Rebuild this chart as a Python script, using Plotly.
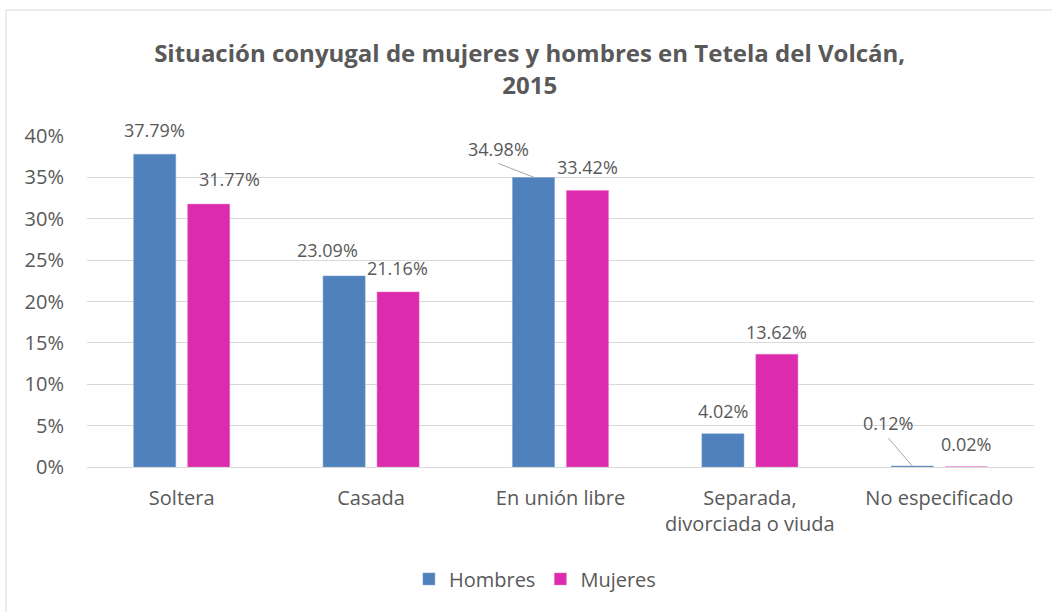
import plotly.graph_objects as go

categories = ["Soltera", "Casada", "En unión libre", "Separada,<br>divorciada o viuda", "No especificado"]
hombres = [37.79, 23.09, 34.98, 4.02, 0.12]
mujeres = [31.77, 21.16, 33.42, 13.62, 0.02]
y_ticks = [0, 5, 10, 15, 20, 25, 30, 35, 40]
y_tick_labels = [f"{t}%" for t in y_ticks]

# label offsets in pixels (dx, dy) relative to bar top centre (styling only)
off_h = [(0, 24), (-17, 26), (-35, 29), (0, 23), (-24, 43)]
off_m = [(21, 25), (-1, 24), (0, 23), (0, 22), (0, 23)]
leader_h = [None, None, (-62, -26, 14, 0), None, (-51, -27, 28, 0)]

C_H = "#4F81BD"
C_M = "#DD2BAD"
TXT = "#595959"
FONT = "Open Sans, Calibri, sans-serif"

fig = go.Figure()
fig.add_trace(go.Bar(name="Hombres", x=categories, y=[v / 100 for v in hombres],
                     marker=dict(color=C_H, line=dict(color="#7FA3D1", width=0.5))))
fig.add_trace(go.Bar(name="Mujeres", x=categories, y=[v / 100 for v in mujeres],
                     marker=dict(color=C_M, line=dict(color="#E879C8", width=0.5))))

BAR_OFF = 27
annotations = []
shapes = []
for i, cat in enumerate(categories):
    for vals, offs, sign in ((hombres, off_h, -1), (mujeres, off_m, 1)):
        dx, dy = offs[i]
        annotations.append(dict(x=cat, y=vals[i] / 100, xref="x", yref="y",
                                text=f"{vals[i]:.2f}%", showarrow=False,
                                xanchor="center", yanchor="middle",
                                xshift=sign * BAR_OFF + dx, yshift=dy,
                                font=dict(family=FONT, size=18, color=TXT)))
    if leader_h[i] is not None:
        x0, x1, y0, y1 = leader_h[i]
        shapes.append(dict(type="line", xref="x", yref="y",
                           xsizemode="pixel", ysizemode="pixel",
                           xanchor=i, yanchor=hombres[i] / 100,
                           x0=x0, x1=x1, y0=y0, y1=y1,
                           line=dict(color="#A6A6A6", width=1)))

# outer chart border
shapes.append(dict(type="rect", xref="paper", yref="paper",
                   x0=-0.0855, x1=1.05, y0=-0.47, y1=1.3807,
                   line=dict(color="#D9D9D9", width=1), fillcolor="rgba(0,0,0,0)",
                   layer="below"))

fig.update_layout(
    width=1052, height=612,
    margin=dict(l=87, r=18, t=136, b=145),
    paper_bgcolor="white", plot_bgcolor="white",
    barmode="group", bargap=0.43, bargroupgap=0.22,
    title=dict(text="Situación conyugal de mujeres y hombres en Tetela del Volcán,<br>2015",
               x=0.5035, xanchor="center", y=0.898, yanchor="middle",
               font=dict(family=FONT, size=24, color=TXT, weight="bold")),
    font=dict(family=FONT, color=TXT),
    legend=dict(orientation="h", x=0.473, xanchor="center", y=-0.338, yanchor="middle",
                font=dict(family=FONT, size=20, color=TXT), itemwidth=30,
                tracegroupgap=0),
    annotations=annotations,
    shapes=shapes,
    showlegend=True,
)
fig.update_xaxes(type="category", showgrid=False, showline=False, zeroline=False,
                 tickfont=dict(family=FONT, size=20, color=TXT), ticks="",
                 ticklabelstandoff=17)
fig.update_yaxes(range=[0, 0.40], tickvals=[t / 100 for t in y_ticks], ticktext=y_tick_labels,
                 showgrid=True, gridcolor="#D9D9D9", gridwidth=1,
                 zeroline=True, zerolinecolor="#D9D9D9", zerolinewidth=1,
                 showline=False, ticks="",
                 tickfont=dict(family=FONT, size=20, color=TXT), ticklabelstandoff=22)
for tr in fig.data:
    tr.cliponaxis = False

fig.write_html("out.html", config={"displayModeBar": False},
               post_script="document.body.style.margin='0';")
